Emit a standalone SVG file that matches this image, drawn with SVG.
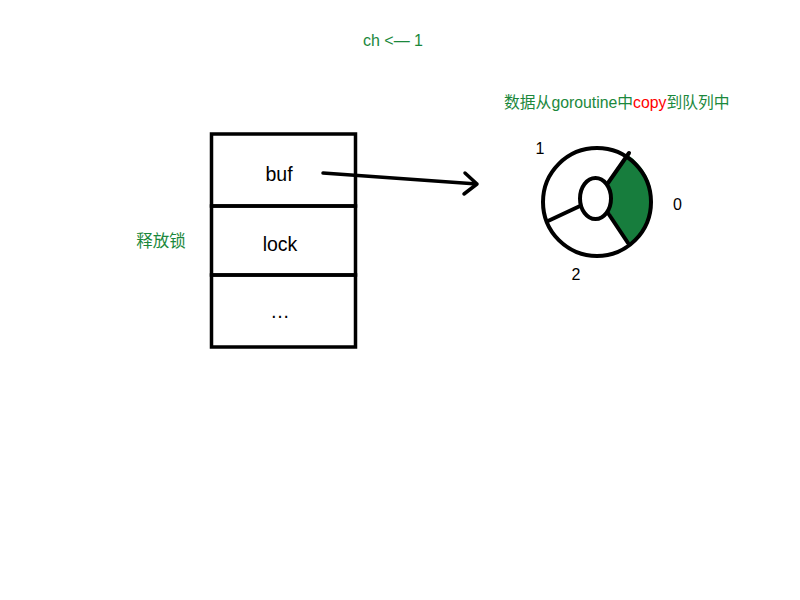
<svg xmlns="http://www.w3.org/2000/svg" width="800" height="600" viewBox="0 0 800 600">
<style>
.t{font-family:"Liberation Sans","Noto Sans CJK SC",Arial,sans-serif;fill:#000}
.big{font-size:19.5px}
.num{font-size:16px}
.g{fill:#1b883c}
.r{fill:#f00}
.s{stroke:#000;stroke-width:4;stroke-linecap:round;stroke-linejoin:round}
.n{fill:none}
.w{fill:#fff}
.box{fill:none;stroke:#000;stroke-width:3.5}
</style>
<rect width="800" height="600" fill="#fff"/>
<g id="title"><text class="t g" x="393" y="46" text-anchor="middle" style="font-size:16px">ch &lt;— 1</text></g>
<g id="caption"><text class="t g" x="504" y="108" style="font-size:15.8px">数据从goroutine中<tspan class="r">copy</tspan>到队列中</text></g>
<g id="release"><text class="t g" x="161" y="247" text-anchor="middle" style="font-size:16.5px">释放锁</text></g>
<g id="struct">
<g id="buf"><rect class="box" x="211.5" y="134" width="144" height="72"/><text class="t big" x="279" y="181" text-anchor="middle">buf</text></g>
<g id="lock"><rect class="box" x="211.5" y="206" width="144" height="69"/><text class="t big" x="280" y="251" text-anchor="middle">lock</text></g>
<g id="more"><rect class="box" x="211.5" y="275" width="144" height="72"/><text class="t big" x="280" y="318" text-anchor="middle">…</text></g>
</g>
<g id="connectors">
<path class="s n" style="stroke-width:3.5" d="M323 173 L477 184 M465 173 L477 184 L464 194"/>
</g>
<g id="queue">
<path d="M628 155 A54 54 0 0 1 628 245 L610 213 L596 198 L610 181 Z" fill="#177d3d"/>
<circle class="s n" cx="597" cy="202" r="54"/>
<ellipse class="s w" cx="595.5" cy="198.5" rx="15.5" ry="20.5"/>
<path class="s n" d="M608 183 L629 153 M608 213 L628 243 M580 206 L548 221"/>
<text class="t num" x="540" y="154" text-anchor="middle">1</text>
<text class="t num" x="677.5" y="209.5" text-anchor="middle">0</text>
<text class="t num" x="576" y="280" text-anchor="middle">2</text>
</g>
</svg>
